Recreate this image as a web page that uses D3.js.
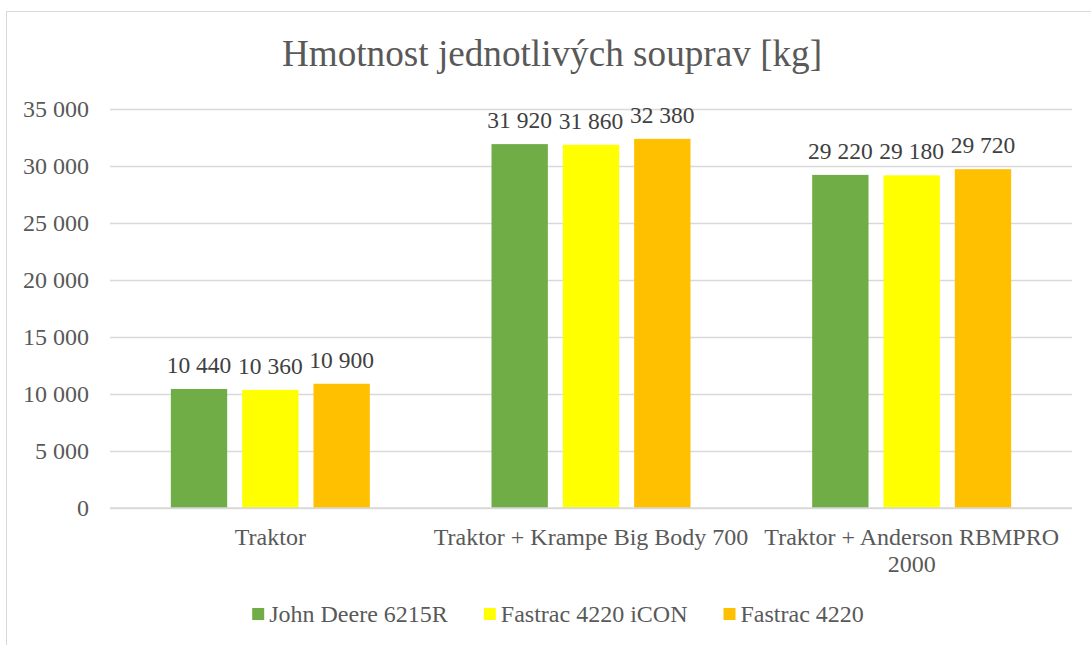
<!DOCTYPE html>
<html>
<head>
<meta charset="utf-8">
<script src="https://cdn.jsdelivr.net/npm/d3@7"></script>
<style>
  html, body { margin: 0; padding: 0; background: #fff; }
  svg { display: block; }
</style>
</head>
<body>
<svg id="chart" width="1091" height="645"></svg>
<script>
const title = "Hmotnost jednotlivých souprav [kg]";
const categories = ["Traktor", "Traktor + Krampe Big Body 700", "Traktor + Anderson RBMPRO 2000"];
const seriesNames = ["John Deere 6215R", "Fastrac 4220 iCON", "Fastrac 4220"];
const johnDeere = [10440, 31920, 29220];
const fastracIcon = [10360, 31860, 29180];
const fastrac = [10900, 32380, 29720];
const yTicks = [0, 5000, 10000, 15000, 20000, 25000, 30000, 35000];
const colors = ["#70ad47", "#ffff00", "#ffc000"];

const seriesValues = [johnDeere, fastracIcon, fastrac];
const FONT = "Liberation Serif";

const svg = d3.select("#chart");
const W = 1091, H = 645;
const margin = { left: 110, right: 19, top: 109, bottom: 137 };
const plotL = margin.left, plotR = W - margin.right, plotT = margin.top, plotB = H - margin.bottom;

const loc = d3.formatLocale({ decimal: ",", thousands: "\u00a0", grouping: [3], currency: ["", " Kč"] });
const fmt = loc.format(",d");

// outer border
svg.append("rect")
  .attr("x", 6.5).attr("y", 11.5).attr("width", 1200).attr("height", 800)
  .attr("fill", "#fff").attr("stroke", "#d9d9d9").attr("stroke-width", 1);

// title
svg.append("text")
  .attr("x", 552).attr("y", 66)
  .attr("text-anchor", "middle")
  .style("font-family", FONT).style("font-size", "37.2px")
  .attr("fill", "#595959")
  .text(title);

const y = d3.scaleLinear().domain([0, 35000]).range([plotB, plotT]);
const x0 = d3.scaleBand().domain(categories).range([plotL, plotR]).padding(0);
const x1 = d3.scaleBand().domain(seriesNames).range([0, x0.bandwidth()]).paddingInner(0.21).paddingOuter(0.853);

// gridlines + y ticks
const yAxis = d3.axisLeft(y).tickValues(yTicks).tickSize(-(plotR - plotL)).tickPadding(21).tickFormat(fmt);
const gy = svg.append("g").attr("transform", `translate(${plotL},0)`).call(yAxis);
gy.select(".domain").remove();
gy.selectAll(".tick line").attr("stroke", "#d9d9d9").attr("stroke-width", 1.4);
gy.selectAll(".tick text")
  .style("font-family", FONT).style("font-size", "24px")
  .attr("fill", "#595959");

// bars
const groups = svg.append("g").selectAll("g")
  .data(categories)
  .join("g")
  .attr("transform", d => `translate(${x0(d)},0)`);

groups.selectAll("rect")
  .data((c, i) => seriesNames.map((s, j) => ({ s, j, v: seriesValues[j][i] })))
  .join("rect")
  .attr("x", d => x1(d.s))
  .attr("width", x1.bandwidth())
  .attr("y", d => y(d.v))
  .attr("height", d => y(0) - y(d.v))
  .attr("fill", d => colors[d.j]);

groups.selectAll("text.lbl")
  .data((c, i) => seriesNames.map((s, j) => ({ s, j, v: seriesValues[j][i] })))
  .join("text")
  .attr("class", "lbl")
  .attr("x", d => x1(d.s) + x1.bandwidth() / 2)
  .attr("y", d => y(d.v) - 16)
  .attr("text-anchor", "middle")
  .style("font-family", FONT).style("font-size", "23.5px")
  .attr("fill", "#404040")
  .text(d => fmt(d.v));

// baseline axis line
svg.append("line")
  .attr("x1", plotL).attr("x2", plotR)
  .attr("y1", y(0)).attr("y2", y(0))
  .attr("stroke", "#d9d9d9").attr("stroke-width", 1.4);

// category labels with wrapping
const xAxis = d3.axisBottom(x0).tickSize(0).tickPadding(0);
const gx = svg.append("g").attr("transform", `translate(0,${plotB})`).call(xAxis);
gx.select(".domain").remove();
gx.selectAll(".tick text")
  .style("font-family", FONT).style("font-size", "24px")
  .attr("fill", "#595959")
  .attr("y", 37).attr("dy", 0)
  .each(function () {
    const t = d3.select(this);
    const words = t.text().split(/\s+/);
    const maxW = x0.bandwidth() - 4;
    t.text(null);
    let line = [];
    let lineNo = 0;
    let tspan = t.append("tspan").attr("x", 0).attr("y", 37);
    for (const w of words) {
      line.push(w);
      tspan.text(line.join(" "));
      if (tspan.node().getComputedTextLength() > maxW && line.length > 1) {
        line.pop();
        tspan.text(line.join(" "));
        line = [w];
        lineNo++;
        tspan = t.append("tspan").attr("x", 0).attr("y", 37 + lineNo * 27).text(w);
      }
    }
  });

// legend
const legend = svg.append("g");
const items = legend.selectAll("g").data(seriesNames).join("g");
items.append("rect")
  .attr("width", 12).attr("height", 12)
  .attr("y", -14)
  .attr("fill", (d, i) => colors[i]);
items.append("text")
  .attr("x", 17)
  .style("font-family", FONT).style("font-size", "24px")
  .attr("fill", "#595959")
  .text(d => d);
let xpos = 0;
items.each(function () {
  const g = d3.select(this);
  g.attr("transform", `translate(${xpos},0)`);
  const tw = g.select("text").node().getComputedTextLength();
  xpos += 17 + tw + 36;
});
const totalW = xpos - 36;
legend.attr("transform", `translate(${558 - totalW / 2},622)`);
</script>
</body>
</html>
